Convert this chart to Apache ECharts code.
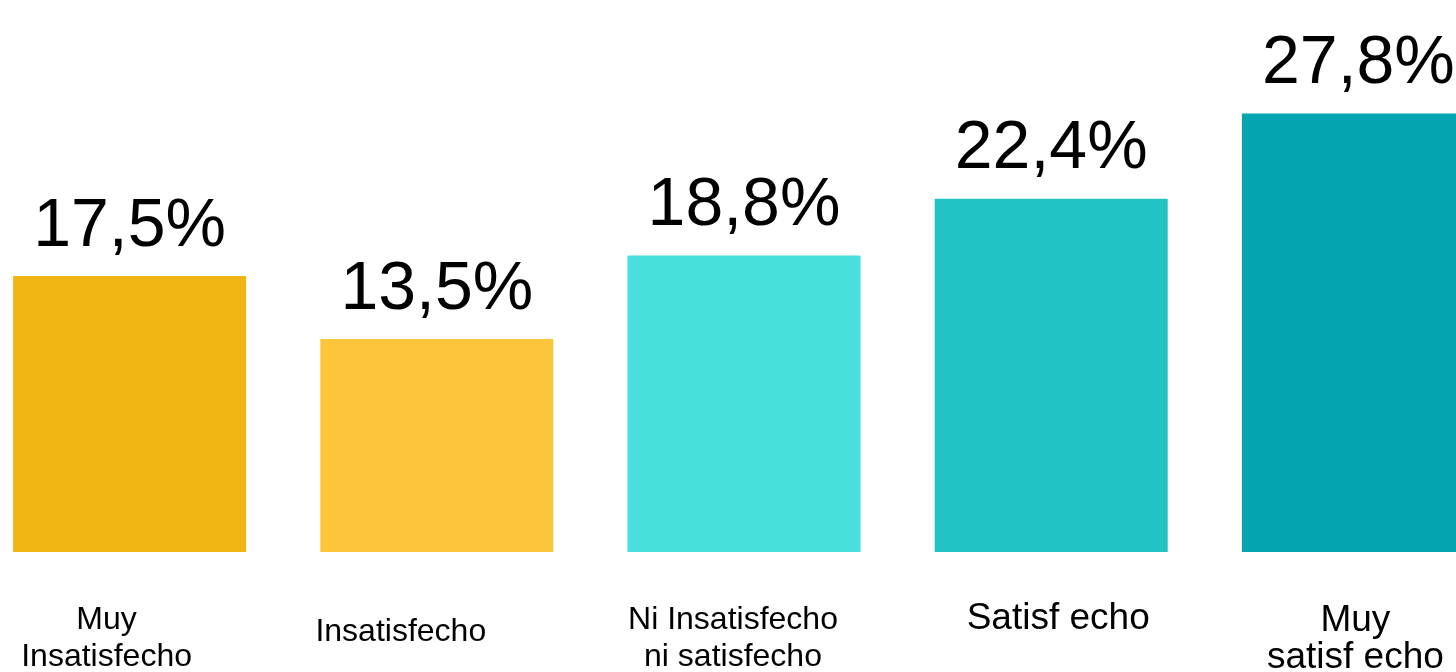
<!DOCTYPE html>
<html>
<head>
<meta charset="utf-8">
<script src="https://cdn.jsdelivr.net/npm/echarts@6/dist/echarts.min.js"></script>
<style>
  html, body { margin: 0; padding: 0; background: #fff; }
  #chart { width: 1456px; height: 672px; }
</style>
</head>
<body>
<div id="chart"></div>
<script>
// niveles de satisfacción
const categories = ['Muy\nInsatisfecho', 'Insatisfecho', 'Ni Insatisfecho\nni satisfecho', 'Satisf echo', 'Muy\nsatisf echo'];
const values = [17.5, 13.5, 18.8, 22.4, 27.8];
const barColors = ['#EFB512', '#FDC53C', '#49DFDC', '#21C3C5', '#04A5B1'];

const FONT = '"Liberation Sans", Arial, sans-serif';

// ajustes de cada etiqueta del eje (tamaño y desplazamiento)
const labelStyles = [
  { fontSize: 32, lineHeight: 37, padding: [0, 46, 0, 0] },
  { fontSize: 32, lineHeight: 37, padding: [12, 72, 0, 0] },
  { fontSize: 32, lineHeight: 37, padding: [0, 22, 0, 0] },
  { fontSize: 37, lineHeight: 37, padding: [-2, 0, 0, 14] },
  { fontSize: 37, lineHeight: 37, padding: [0, 6, 0, 0] }
];

const chart = echarts.init(document.getElementById('chart'));

const option = {
  backgroundColor: '#ffffff',
  animation: false,
  grid: {
    left: -24,
    right: -56,
    top: 0,
    bottom: 120,
    outerBoundsMode: 'none'
  },
  xAxis: {
    type: 'category',
    data: categories.map((c, i) => ({ value: c, textStyle: labelStyles[i] })),
    axisLine: { show: false },
    axisTick: { show: false },
    axisLabel: {
      interval: 0,
      margin: 50,
      color: '#000',
      fontFamily: FONT,
      verticalAlign: 'top'
    }
  },
  yAxis: {
    type: 'value',
    min: 0,
    max: 35,
    show: false,
    splitLine: { show: false }
  },
  series: [
    {
      type: 'bar',
      barWidth: 233,
      data: values.map((v, i) => ({ value: v, itemStyle: { color: barColors[i] } })),
      label: {
        show: true,
        position: 'top',
        distance: 15,
        color: '#000',
        fontFamily: FONT,
        fontSize: 68,
        formatter: (p) => p.value.toFixed(1).replace('.', ',') + '%'
      }
    }
  ]
};

chart.setOption(option);
</script>
</body>
</html>
